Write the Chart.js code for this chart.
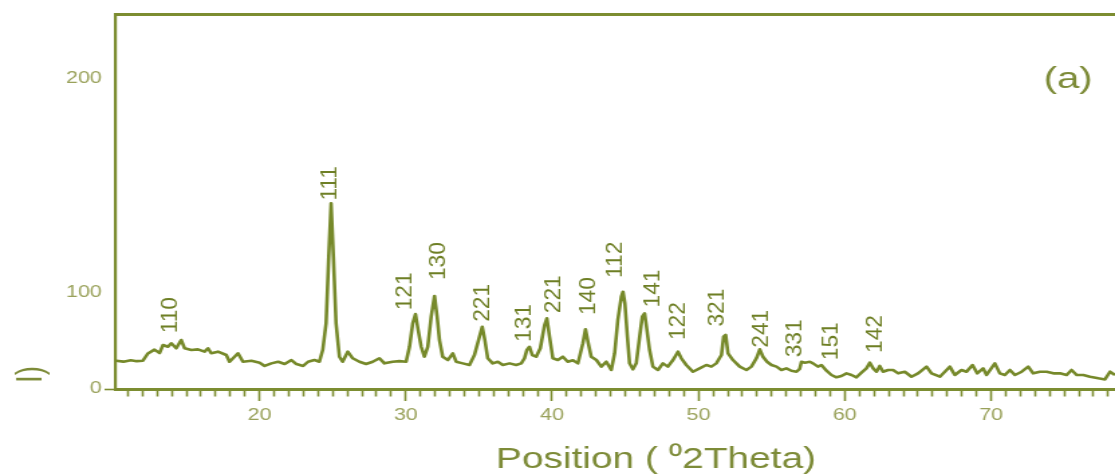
<!DOCTYPE html>
<html>
<head>
<meta charset="utf-8">
<title>XRD pattern (a)</title>
<script src="https://cdn.jsdelivr.net/npm/chart.js@4.4.1/dist/chart.umd.min.js"></script>
<style>
  html, body { margin: 0; padding: 0; background: #ffffff; overflow: hidden; }
  #wrap { width: 1115px; height: 475px; overflow: hidden; }
  /* the figure is drawn on a narrower canvas and widened horizontally */
  #xrd { display: block; transform: scaleX(1.34014); transform-origin: 0 0; }
</style>
</head>
<body>
<div id="wrap"><canvas id="xrd" width="832" height="475"></canvas></div>
<script>
// Diffraction pattern: position (°2θ) and intensity
const twoTheta = [
  10.00, 10.20, 10.70, 11.20, 11.60, 12.03, 12.37, 12.82, 13.17, 13.40,
  13.74, 13.97, 14.31, 14.65, 14.88, 15.34, 15.79, 16.24, 16.48, 16.70,
  17.16, 17.73, 17.95, 18.53, 18.87, 19.44, 20.01, 20.35, 20.81, 21.27,
  21.72, 22.18, 22.52, 22.98, 23.32, 23.75, 24.09, 24.32, 24.55, 24.73,
  24.89, 25.05, 25.23, 25.46, 25.68, 26.03, 26.37, 26.83, 27.28, 27.74,
  28.19, 28.54, 29.10, 29.56, 30.02, 30.25, 30.47, 30.66, 30.84, 31.05,
  31.27, 31.50, 31.73, 31.96, 32.14, 32.30, 32.52, 32.87, 33.21, 33.44,
  33.89, 34.35, 34.69, 35.03, 35.22, 35.40, 35.60, 35.94, 36.29, 36.63,
  37.09, 37.54, 37.89, 38.11, 38.27, 38.45, 38.64, 38.91, 39.19, 39.48,
  39.64, 39.82, 40.05, 40.39, 40.73, 41.07, 41.42, 41.76, 42.10, 42.28,
  42.47, 42.67, 43.02, 43.36, 43.70, 44.04, 44.27, 44.49, 44.73, 44.84,
  44.97, 45.14, 45.29, 45.52, 45.75, 45.98, 46.16, 46.32, 46.43, 46.66,
  46.89, 47.23, 47.57, 47.91, 48.26, 48.60, 48.83, 49.17, 49.62, 50.08,
  50.54, 50.88, 51.22, 51.57, 51.72, 51.86, 52.02, 52.36, 52.82, 53.28,
  53.62, 53.96, 54.19, 54.41, 54.69, 54.99, 55.33, 55.67, 56.01, 56.35,
  56.70, 56.92, 57.04, 57.27, 57.61, 57.83, 58.17, 58.40, 58.75, 59.09,
  59.43, 59.77, 60.12, 60.46, 60.80, 61.14, 61.48, 61.71, 61.94, 62.17,
  62.39, 62.62, 62.96, 63.30, 63.65, 64.10, 64.56, 65.01, 65.59, 65.93,
  66.50, 66.96, 67.18, 67.52, 67.98, 68.32, 68.73, 69.05, 69.46, 69.69,
  70.26, 70.60, 70.94, 71.29, 71.63, 72.09, 72.54, 72.88, 73.34, 73.80,
  74.25, 74.71, 75.16, 75.50, 75.85, 76.30, 76.76, 77.33, 77.78, 78.13,
  78.47
];
const intensity = [
  29.5, 29.5, 28.5, 30.0, 29.0, 29.5, 37.0, 41.0, 37.5, 45.8,
  44.0, 47.6, 42.4, 51.0, 42.4, 40.6, 41.3, 38.9, 42.4, 37.2,
  38.9, 35.4, 28.4, 37.2, 28.4, 29.5, 27.4, 24.0, 26.7, 28.4,
  26.0, 30.2, 26.0, 24.0, 28.4, 30.2, 28.4, 40.6, 68.4, 116.9,
  141.7, 116.9, 68.4, 33.6, 28.4, 38.9, 32.0, 28.4, 26.0, 28.4,
  32.0, 26.7, 28.4, 29.0, 28.4, 44.0, 68.4, 78.0, 61.5, 44.0,
  33.6, 44.0, 75.3, 96.9, 75.3, 51.0, 33.6, 30.2, 37.2, 28.4,
  26.7, 25.0, 35.4, 54.5, 64.9, 51.0, 32.0, 26.7, 28.4, 25.0,
  26.7, 25.0, 26.7, 32.0, 40.6, 44.0, 35.4, 33.6, 42.4, 66.7,
  73.6, 54.5, 32.0, 30.2, 33.6, 28.4, 30.0, 26.7, 47.6, 62.2,
  47.6, 33.6, 30.2, 23.3, 28.4, 19.8, 37.2, 71.9, 96.2, 100.6,
  89.3, 54.5, 26.7, 20.5, 26.7, 54.5, 75.3, 78.8, 66.7, 40.6,
  23.3, 19.8, 26.7, 23.3, 30.2, 38.9, 32.0, 25.0, 18.0, 21.5,
  25.0, 23.3, 26.7, 35.4, 54.5, 56.3, 37.2, 30.2, 23.3, 19.8,
  23.3, 32.0, 41.3, 33.6, 28.4, 25.0, 23.3, 19.8, 21.5, 19.0,
  18.0, 21.0, 28.4, 27.4, 28.4, 26.7, 23.3, 25.0, 19.1, 14.6,
  12.2, 13.5, 16.3, 14.6, 12.2, 17.0, 21.5, 27.4, 21.5, 18.0,
  24.0, 18.0, 19.8, 19.8, 16.3, 18.0, 12.8, 16.3, 23.3, 16.3,
  12.8, 19.8, 23.3, 14.6, 19.8, 18.0, 25.0, 16.3, 21.5, 14.6,
  26.7, 16.3, 14.6, 19.8, 14.6, 18.0, 23.3, 16.3, 18.0, 18.0,
  16.3, 16.3, 14.6, 19.8, 14.6, 14.6, 12.8, 11.1, 10.0, 18.0,
  14.6
];

// Reflection indices (hkl) and where each is written (°2θ, intensity at text start)
const peakHkl   = ['110', '111', '121', '130', '221', '131', '221', '140', '112', '141', '122', '321', '241', '331', '151', '142'];
const peakTheta = [13.83, 24.77, 29.84, 32.16, 35.17, 37.98, 40.03, 42.42, 44.27, 46.80, 48.58, 51.24, 54.25, 56.51, 58.97, 62.05];
const peakLevel = [58, 143, 82, 106, 70, 49, 79, 77, 107, 85, 51, 65, 43, 33, 30, 37.5];

// Axis ticks
const yTickValues = [0, 100, 200];
const xMajorStep = 10;

// Intensity axis: segmented linear scale (breakpoints and their share of the axis height)
const Y_BREAKS = [0, 100, 200, 230];
const Y_SHARE  = [0, 0.256, 0.829, 1];

function piecewise(v, from, to) {
  if (v <= from[0]) return to[0] + (v - from[0]) * (to[1] - to[0]) / (from[1] - from[0]);
  for (let i = 1; i < from.length; i++) {
    if (v <= from[i] || i === from.length - 1) {
      const t = (v - from[i - 1]) / (from[i] - from[i - 1]);
      return to[i - 1] + t * (to[i] - to[i - 1]);
    }
  }
}

class SegmentedScale extends Chart.LinearScale {
  static id = 'segmented';
  static defaults = {};
  getPixelForValue(value) {
    const f = piecewise(value, Y_BREAKS, Y_SHARE);
    return this.bottom - f * (this.bottom - this.top);
  }
  getValueForPixel(pixel) {
    const f = (this.bottom - pixel) / (this.bottom - this.top);
    return piecewise(f, Y_SHARE, Y_BREAKS);
  }
}
Chart.register(SegmentedScale);

const OLIVE = '#76892a';
const AXIS = '#7c8d31';
const TICK_TEXT = '#99a15a';
const HKL_TEXT = '#6e7f25';
const TITLE_TEXT = '#7d8b38';
const FONT = '"Liberation Sans", Arial, Helvetica, sans-serif';

const X_MIN = 10.14, X_MAX = 78.47;

const texts = {
  id: 'texts',
  afterDatasetsDraw(chart) {
    const { ctx, scales: { x, y } } = chart;
    ctx.save();
    ctx.fillStyle = HKL_TEXT;
    ctx.font = '16px ' + FONT;
    ctx.textAlign = 'left';
    ctx.textBaseline = 'alphabetic';
    peakHkl.forEach((t, i) => {
      const px = x.getPixelForValue(peakTheta[i]);
      const py = y.getPixelForValue(peakLevel[i]);
      ctx.save();
      ctx.translate(px, py);
      ctx.rotate(-Math.PI / 2);
      ctx.scale(1.42, 1);
      ctx.fillText(t, 0, 5.7);
      ctx.restore();
    });
    ctx.restore();
  },
  afterDraw(chart) {
    const { ctx, chartArea } = chart;
    ctx.save();
    // panel tag
    ctx.fillStyle = TITLE_TEXT;
    ctx.font = '30px ' + FONT;
    ctx.textAlign = 'center';
    ctx.textBaseline = 'middle';
    ctx.fillText('(a)', chartArea.right - 35, 80);
    // x-axis title
    ctx.font = '29px ' + FONT;
    ctx.fillText('Position ( \u20702Theta)', 489.5, 460);
    // y-axis title
    ctx.translate(23, chartArea.bottom - 6);
    ctx.rotate(-Math.PI / 2);
    ctx.textAlign = 'left';
    ctx.font = '28px ' + FONT;
    ctx.fillText('I)', 0, 0);
    ctx.restore();
  }
};

const points = twoTheta.map((t, i) => ({ x: t, y: intensity[i] }));

new Chart(document.getElementById('xrd'), {
  type: 'line',
  data: {
    datasets: [{
      data: points,
      borderColor: OLIVE,
      borderWidth: 2.6,
      borderJoinStyle: 'round',
      pointRadius: 0,
      tension: 0,
      fill: false
    }]
  },
  options: {
    responsive: false,
    animation: false,
    events: [],
    layout: { padding: 0 },
    plugins: { legend: { display: false }, tooltip: { enabled: false }, title: { display: false } },
    scales: {
      x: {
        type: 'linear',
        position: 'bottom',
        bounds: 'data',
        min: X_MIN,
        max: X_MAX,
        afterBuildTicks: (s) => {
          const ticks = [];
          for (let v = Math.ceil(X_MIN); v <= Math.floor(X_MAX); v++) ticks.push({ value: v });
          s.ticks = ticks;
        },
        afterFit: (s) => { s.height = 86; },
        border: { display: true, color: AXIS, width: 3 },
        grid: {
          display: true,
          drawOnChartArea: false,
          drawTicks: true,
          tickLength: 12,
          tickWidth: 1.6,
          tickColor: AXIS,
          tickBorderDash: (c) => (c.tick && c.tick.value % xMajorStep === 0) ? [] : [5.5, 40]
        },
        ticks: {
          autoSkip: false,
          maxRotation: 0,
          padding: 5,
          color: TICK_TEXT,
          font: { family: FONT, size: 16 },
          callback: (v) => (v % xMajorStep === 0 && v > X_MIN) ? String(v) : ''
        }
      },
      x2: {
        type: 'linear',
        position: 'top',
        bounds: 'data',
        min: X_MIN,
        max: X_MAX,
        afterFit: (s) => { s.height = 14; },
        border: { display: true, color: AXIS, width: 3 },
        grid: { display: false },
        ticks: { display: false }
      },
      y: {
        type: 'segmented',
        position: 'left',
        bounds: 'data',
        min: 0,
        max: 230,
        afterBuildTicks: (s) => { s.ticks = yTickValues.map(v => ({ value: v })); },
        afterFit: (s) => { s.width = 86; },
        border: { display: true, color: AXIS, width: 2.2 },
        grid: {
          display: true,
          drawOnChartArea: false,
          drawTicks: true,
          tickLength: 8,
          tickWidth: 1.6,
          tickColor: (c) => (c.tick && c.tick.value === 0) ? AXIS : 'rgba(0,0,0,0)'
        },
        ticks: {
          padding: 2,
          color: TICK_TEXT,
          font: { family: FONT, size: 16 },
          callback: (v) => String(v)
        }
      }
    }
  },
  plugins: [texts]
});
</script>
</body>
</html>
